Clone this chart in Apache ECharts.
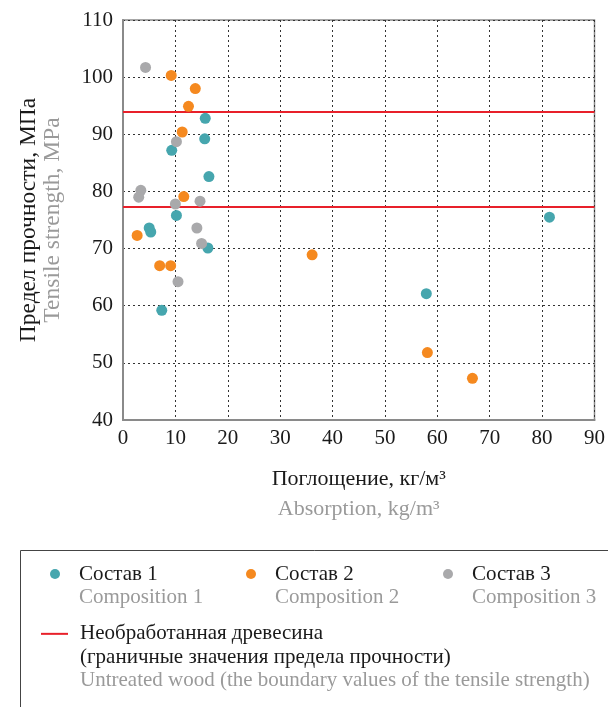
<!DOCTYPE html>
<html>
<head>
<meta charset="utf-8">
<script src="https://cdn.jsdelivr.net/npm/echarts@6/dist/echarts.min.js"></script>
<style>
html,body{margin:0;padding:0;background:#fff;}
#chart{width:608px;height:707px;}
</style>
</head>
<body>
<div id="chart"></div>
<script>
// ---- data ----
var comp1X = [15.7, 15.6, 9.3, 16.4, 10.2, 5.0, 5.3, 16.2, 7.4, 57.9, 81.4];
var comp1Y = [92.8, 89.2, 87.2, 82.6, 75.8, 73.6, 72.9, 70.1, 59.2, 62.1, 75.5];
var comp2X = [9.2, 13.8, 12.5, 11.3, 11.6, 2.7, 7.0, 9.1, 36.1, 58.1, 66.7];
var comp2Y = [100.3, 98.0, 94.9, 90.4, 79.1, 72.3, 67.0, 67.0, 68.9, 51.8, 47.3];
var comp3X = [4.3, 10.2, 3.4, 3.0, 10.0, 14.7, 14.1, 15.0, 10.5];
var comp3Y = [101.7, 88.7, 80.2, 79.0, 77.8, 78.3, 73.6, 70.9, 64.2];
var woodBounds = [94.0, 77.4];
var seriesNamesRu = ['Состав 1', 'Состав 2', 'Состав 3'];
var seriesNamesEn = ['Composition 1', 'Composition 2', 'Composition 3'];
var woodNameRu1 = 'Необработанная древесина';
var woodNameRu2 = '(граничные значения предела прочности)';
var woodNameEn = 'Untreated wood (the boundary values of the tensile strength)';
var xTitleRu = 'Поглощение, кг/м³';
var xTitleEn = 'Absorption, kg/m³';
var yTitleRu = 'Предел прочности, МПа';
var yTitleEn = 'Tensile strength, MPa';

var colors = ['#46a6ae', '#f5891f', '#a9a9ab'];
var FONT = '"Liberation Serif", "DejaVu Serif", serif';
var GRAY = '#9a9a9a';

function pairs(xs, ys) { return xs.map(function (x, i) { return [x, ys[i]]; }); }

var LFS = 21;
var legendRich = {
  e: { fontFamily: FONT, fontSize: LFS, lineHeight: 23 },
  a: { fontFamily: FONT, fontSize: LFS, lineHeight: 23, color: '#1a1a1a', padding: [0, 0, 0, 14] },
  b: { fontFamily: FONT, fontSize: LFS, lineHeight: 23, color: GRAY, padding: [0, 0, 0, 14] }
};
var legendRich2 = {
  e: { fontFamily: FONT, fontSize: LFS, lineHeight: 23.3 },
  a: { fontFamily: FONT, fontSize: LFS, lineHeight: 23.3, color: '#1a1a1a', padding: [0, 0, 0, 7] },
  b: { fontFamily: FONT, fontSize: LFS, lineHeight: 23.3, color: GRAY, padding: [0, 0, 0, 7] }
};
var dotLefts = [50, 246, 443];
var legends = [0, 1, 2].map(function (i) {
  return {
    data: [seriesNamesRu[i]], left: dotLefts[i], top: 575 - 34.5, padding: 0,
    icon: 'circle', itemWidth: 10, itemHeight: 10,
    selectedMode: false,
    formatter: function (n) { return '{e| }\n{a|' + n + '}\n{b|' + seriesNamesEn[i] + '}'; },
    textStyle: { rich: legendRich }
  };
});
legends.push({
  data: [{ name: woodNameRu1, icon: 'rect' }], left: 41, top: 635 - 2.5 * 23.3, padding: 0,
  itemWidth: 27, itemHeight: 2, selectedMode: false,
  formatter: function () { return '{e| }\n{e| }\n{a|' + woodNameRu1 + '}\n{a|' + woodNameRu2 + '}\n{b|' + woodNameEn + '}'; },
  textStyle: { rich: legendRich2 }
});

var scatterSeries = [0, 1, 2].map(function (i) {
  var d = [pairs(comp1X, comp1Y), pairs(comp2X, comp2Y), pairs(comp3X, comp3Y)][i];
  return {
    name: seriesNamesRu[i], type: 'scatter', data: d, symbolSize: 11,
    itemStyle: { color: colors[i], opacity: 1 }, z: 5
  };
});

var option = {
  animation: false,
  backgroundColor: '#fff',
  textStyle: { fontFamily: FONT },
  grid: { left: 123, right: 12, top: 20, bottom: 287, show: true, borderColor: '#8a8a8a', borderWidth: 1.5 },
  xAxis: {
    type: 'value', min: 0, max: 90, interval: 10,
    axisLine: { show: true, lineStyle: { color: '#8a8a8a', width: 2 } },
    axisTick: { show: false },
    axisLabel: { fontFamily: FONT, fontSize: 21, color: '#1a1a1a', margin: 8 },
    splitLine: { show: true, lineStyle: { type: [2, 3], color: '#333', width: 1 } },
    name: '{a|' + xTitleRu + '}\n{b|' + xTitleEn + '}',
    nameLocation: 'middle', nameGap: 44,
    nameTextStyle: {
      rich: {
        a: { fontFamily: FONT, fontSize: 22, color: '#1a1a1a', lineHeight: 30 },
        b: { fontFamily: FONT, fontSize: 22, color: GRAY, lineHeight: 30 }
      }
    }
  },
  yAxis: {
    type: 'value', min: 40, max: 110, interval: 10,
    axisLine: { show: true, lineStyle: { color: '#8a8a8a', width: 2 } },
    axisTick: { show: false },
    axisLabel: { fontFamily: FONT, fontSize: 21, color: '#1a1a1a', margin: 10 },
    splitLine: { show: true, lineStyle: { type: [2, 3], color: '#333', width: 1 } },
    name: '{a|' + yTitleRu + '}\n{b|' + yTitleEn + '}',
    nameLocation: 'middle', nameGap: 58, nameRotate: 90,
    nameTextStyle: {
      rich: {
        a: { fontFamily: FONT, fontSize: 23.5, color: '#1a1a1a', lineHeight: 24 },
        b: { fontFamily: FONT, fontSize: 23.5, color: GRAY, lineHeight: 24 }
      }
    }
  },
  legend: legends,
  graphic: [{
    type: 'rect', left: 18, top: 548, silent: true,
    shape: { width: 700, height: 300 },
    style: { fill: 'none', stroke: '#444', lineWidth: 1 }
  }],
  series: scatterSeries.concat([{
    name: woodNameRu1, type: 'line', data: [], symbol: 'none',
    itemStyle: { color: '#e8202a' },
    lineStyle: { color: '#e8202a', width: 2 },
    markLine: {
      silent: true, symbol: 'none', label: { show: false },
      lineStyle: { color: '#e8202a', width: 2, type: 'solid' },
      data: woodBounds.map(function (v) { return { yAxis: v }; })
    },
    z: 3
  }])
};

var chart = echarts.init(document.getElementById('chart'), null, { renderer: 'canvas' });
chart.setOption(option);
</script>
</body>
</html>
